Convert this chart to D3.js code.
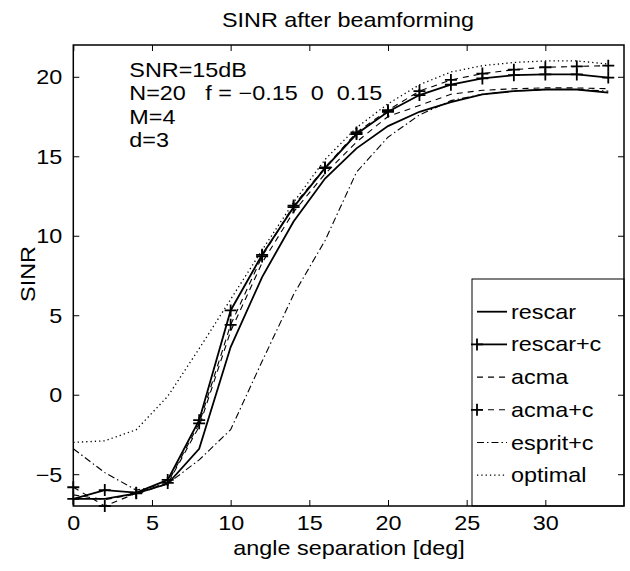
<!DOCTYPE html>
<html>
<head>
<meta charset="utf-8">
<script src="https://cdn.jsdelivr.net/npm/d3@7"></script>
<style>
  body { margin: 0; background: #fff; }
  text { font-family: "Liberation Sans", Arial, Helvetica, sans-serif; fill: #000; }
</style>
</head>
<body>
<div id="chart"></div>
<script>
// angle separation in degrees, one value per simulation point
var angles = [0, 2, 4, 6, 8, 10, 12, 14, 16, 18, 20, 22, 24, 26, 28, 30, 32, 34];

// SINR curves
var rescar   = [-6.55, -6.55, -6.2, -5.6, -3.4, 3.0, 7.4, 10.9, 13.6, 15.5, 16.9, 17.8, 18.4, 18.9, 19.1, 19.2, 19.2, 19.0];
var rescarC  = [-6.55, -6.0, -6.16, -5.36, -1.6, 5.3, 8.8, 11.8, 14.25, 16.4, 17.8, 18.85, 19.5, 19.9, 20.1, 20.15, 20.15, 19.95];
var acma     = [-6.3, -6.6, -6.25, -5.6, -2.0, 4.0, 8.3, 11.5, 13.9, 15.9, 17.5, 18.2, 18.9, 19.15, 19.25, 19.3, 19.3, 19.25];
var acmaC    = [-5.82, -7.0, -6.2, -5.55, -1.8, 4.4, 8.7, 11.9, 14.3, 16.5, 17.9, 19.1, 19.8, 20.2, 20.45, 20.6, 20.65, 20.7];
var espritC  = [-3.4, -4.9, -6.0, -5.6, -4.1, -2.2, 2.1, 6.3, 9.7, 14.0, 16.2, 17.6, 18.5, 18.9, 19.1, 19.2, 19.2, 19.1];
var optimal  = [-3.0, -2.9, -2.2, -0.1, 2.9, 6.0, 9.1, 12.1, 14.8, 16.8, 18.3, 19.5, 20.3, 20.7, 20.9, 21.0, 21.0, 20.8];

var seriesNames = ["rescar", "rescar+c", "acma", "acma+c", "esprit+c", "optimal"];

// tick values
var xTicks = [0, 5, 10, 15, 20, 25, 30];
var yTicks = [-5, 0, 5, 10, 15, 20];

var annotation = ["SNR=15dB", "N=20   f = \u22120.15  0  0.15", "M=4", "d=3"];

// SVG area
var svgWidth = 630;
var svgHeight = 571;

var margin = { top: 45, right: 6, bottom: 65, left: 73.3 };
var width = svgWidth - margin.left - margin.right;
var height = svgHeight - margin.top - margin.bottom;

// the original figure text is stretched sideways a bit
var fontSize = 20;
var stretch = 1.17;

var svg = d3.select("#chart")
  .append("svg")
  .attr("width", svgWidth)
  .attr("height", svgHeight);

var chartGroup = svg.append("g")
  .attr("transform", `translate(${margin.left}, ${margin.top})`);

var xScale = d3.scaleLinear().domain([0, 35]).range([0, width]);
var yScale = d3.scaleLinear().domain([-7, 22]).range([height, 0]);

// line styles per series
var styles = [
  { values: rescar,  width: 1.8, dash: null,        marker: false },
  { values: rescarC, width: 1.8, dash: null,        marker: true },
  { values: acma,    width: 1.1, dash: "6,5",       marker: false },
  { values: acmaC,   width: 1.1, dash: "6,5",       marker: true },
  { values: espritC, width: 1.1, dash: "7,3,1.5,3", marker: false },
  { values: optimal, width: 1.3, dash: "1.3,3",     marker: false }
];

var line = d3.line()
  .x(d => xScale(d[0]))
  .y(d => yScale(d[1]));

function plus(g, cx, cy) {
  g.append("path")
    .attr("d", `M${cx - 6},${cy}H${cx + 6}M${cx},${cy - 6}V${cy + 6}`)
    .attr("stroke", "#000")
    .attr("stroke-width", 1.8)
    .attr("fill", "none");
}

var linesGroup = chartGroup.append("g");

styles.forEach(function(s) {
  var pts = angles.map((a, i) => [a, s.values[i]]);
  linesGroup.append("path")
    .datum(pts)
    .attr("d", line)
    .attr("fill", "none")
    .attr("stroke", "#000")
    .attr("stroke-width", s.width)
    .attr("stroke-dasharray", s.dash);
  if (s.marker) {
    pts.forEach(p => plus(linesGroup, xScale(p[0]), yScale(p[1])));
  }
});

// stretched text helper
function label(g, x, y, str, anchor) {
  return g.append("text")
    .attr("transform", `translate(${x}, ${y}) scale(${stretch}, 1)`)
    .attr("text-anchor", anchor || "start")
    .attr("font-size", fontSize)
    .style("white-space", "pre")
    .text(str);
}

// parameter annotation, top left
annotation.forEach(function(str, i) {
  label(chartGroup, 56, 32 + i * 23.3, str);
});

// legend
var legend = chartGroup.append("g")
  .attr("transform", `translate(${472 - margin.left}, ${279 - margin.top})`);

legend.append("rect")
  .attr("width", 152)
  .attr("height", 227)
  .attr("fill", "#fff")
  .attr("stroke", "#000")
  .attr("stroke-width", 1);

seriesNames.forEach(function(name, i) {
  var ly = 32.7 + i * 32.7;
  var s = styles[i];
  legend.append("line")
    .attr("x1", 5).attr("x2", 35)
    .attr("y1", ly).attr("y2", ly)
    .attr("stroke", "#000")
    .attr("stroke-width", s.width)
    .attr("stroke-dasharray", s.dash);
  if (s.marker) plus(legend, 5, ly);
  label(legend, 39, ly + 7, name);
});

// axes, ticks point inward on all four sides
var bottomAxis = d3.axisBottom(xScale).tickValues(xTicks).tickSize(-6).tickSizeOuter(0).tickPadding(12);
var leftAxis = d3.axisLeft(yScale).tickValues(yTicks).tickSize(-6).tickSizeOuter(0).tickPadding(12)
  .tickFormat(d => d < 0 ? "\u2212" + Math.abs(d) : d);

var xAxis = chartGroup.append("g")
  .attr("transform", `translate(0, ${height})`)
  .call(bottomAxis);

var yAxis = chartGroup.append("g")
  .call(leftAxis);

chartGroup.append("g")
  .call(d3.axisTop(xScale).tickValues(xTicks).tickSize(-6).tickSizeOuter(0).tickFormat(""));

chartGroup.append("g")
  .attr("transform", `translate(${width}, 0)`)
  .call(d3.axisRight(yScale).tickValues(yTicks).tickSize(-6).tickSizeOuter(0).tickFormat(""));

chartGroup.selectAll(".domain").remove();
chartGroup.selectAll(".tick line").attr("stroke", "#000").attr("stroke-width", 1);

xAxis.selectAll("text")
  .attr("font-size", fontSize)
  .attr("font-family", null)
  .attr("y", null).attr("dy", null)
  .attr("transform", `translate(0, 24) scale(${stretch}, 1)`);

yAxis.selectAll("text")
  .attr("font-size", fontSize)
  .attr("font-family", null)
  .attr("x", null).attr("dy", null)
  .attr("transform", `translate(-11, 7) scale(${stretch}, 1)`);

// frame
chartGroup.append("rect")
  .attr("width", width)
  .attr("height", height)
  .attr("fill", "none")
  .attr("stroke", "#000")
  .attr("stroke-width", 1.5);

// title and axis labels
label(svg, 348, 27, "SINR after beamforming", "middle");
label(svg, 349, 555, "angle separation [deg]", "middle");

svg.append("text")
  .attr("transform", "translate(35, 274) rotate(-90) scale(1.17, 1)")
  .attr("text-anchor", "middle")
  .attr("font-size", fontSize)
  .text("SINR");
</script>
</body>
</html>
